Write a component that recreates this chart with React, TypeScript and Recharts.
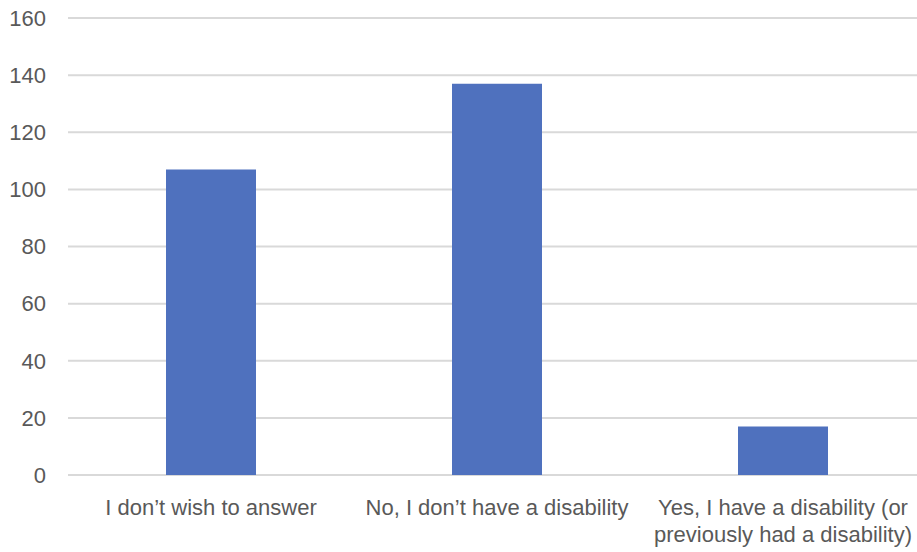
import React from "react";
import { BarChart, Bar, XAxis, YAxis, CartesianGrid } from "recharts";

const categories = [
  "I don\u2019t wish to answer",
  "No, I don\u2019t have a disability",
  "Yes, I have a disability (or\npreviously had a disability)",
];
const counts = [107, 137, 17];
const yTicks = [0, 20, 40, 60, 80, 100, 120, 140, 160];

const data = categories.map((c, i) => ({ name: c, value: counts[i] }));

const FONT = "'Liberation Sans', Arial, sans-serif";
const TEXT_COLOR = "#595959";

const XTick = (props: any) => {
  const { x, y, payload } = props;
  const lines = String(payload.value).split("\n");
  return (
    <text
      x={x}
      y={y + 40}
      textAnchor="middle"
      fill={TEXT_COLOR}
      fontSize={22}
      fontFamily={FONT}
    >
      {lines.map((l, i) => (
        <tspan key={i} x={x} dy={i === 0 ? 0 : 27}>
          {l}
        </tspan>
      ))}
    </text>
  );
};

export default function App() {
  return (
    <div
      style={{
        position: "fixed",
        left: 0,
        top: 0,
        width: 917,
        height: 552,
        overflow: "hidden",
        background: "#ffffff",
      }}
    >
      <BarChart
        width={926}
        height={552}
        data={data}
        margin={{ top: 18, right: 0, bottom: 0, left: 0 }}
      >
        <CartesianGrid vertical={false} stroke="#d9d9d9" strokeWidth={2} />
        <XAxis
          dataKey="name"
          axisLine={false}
          tickLine={false}
          tickSize={0}
          tickMargin={0}
          height={77}
          interval={0}
          tick={<XTick />}
        />
        <YAxis
          domain={[0, 160]}
          ticks={yTicks}
          width={68}
          axisLine={false}
          tickLine={false}
          tickSize={0}
          tickMargin={22}
          tick={{ fill: TEXT_COLOR, fontSize: 22, fontFamily: FONT }}
        />
        <Bar dataKey="value" fill="#4f71be" barSize={90} isAnimationActive={false} />
      </BarChart>
    </div>
  );
}
